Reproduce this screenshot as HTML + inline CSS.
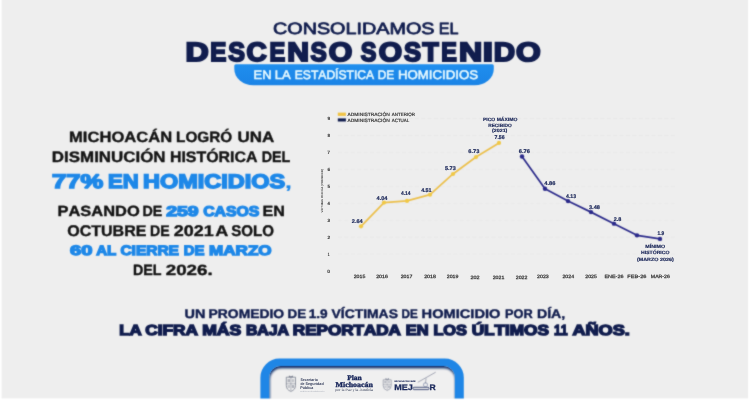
<!DOCTYPE html>
<html lang="es"><head><meta charset="utf-8"><title>Descenso sostenido</title>
<style>
html,body{margin:0;padding:0;background:#eeeeee;}
body{width:750px;height:400px;overflow:hidden;font-family:"Liberation Sans", sans-serif;}
svg{display:block;transform:translateZ(0);will-change:transform;}
text{font-kerning:none;text-rendering:geometricPrecision;}
</style></head><body>
<svg width="750" height="400" viewBox="0 0 750 400">
<defs>
<filter id="soft" x="0" y="0" width="750" height="400" filterUnits="userSpaceOnUse" color-interpolation-filters="sRGB"><feConvolveMatrix order="3" kernelMatrix="0.03 0.095 0.03 0.095 0.5 0.095 0.03 0.095 0.03" edgeMode="duplicate" preserveAlpha="true"/></filter>
<filter id="sh" x="-10%" y="-20%" width="120%" height="150%"><feGaussianBlur stdDeviation="1.3"/></filter>
<linearGradient id="pg" x1="0" y1="0" x2="0" y2="1"><stop offset="0" stop-color="#1f8eee"/><stop offset="1" stop-color="#1b84e6"/></linearGradient>
</defs>
<g filter="url(#soft)">
<rect width="750" height="400" fill="#ffffff"/>
<rect x="1.6" y="0" width="746.5" height="398.4" fill="#eeeeee"/>
<text y="34.00" font-family='"Liberation Sans", sans-serif' font-size="16.33" font-weight="normal" fill="#111d4e" stroke="#111d4e" stroke-width="0.75" stroke-linejoin="round" stroke-miterlimit="2"><tspan x="272.97" textLength="161.56" lengthAdjust="spacingAndGlyphs">CONSOLIDAMOS</tspan> <tspan x="438.65" textLength="19.82" lengthAdjust="spacingAndGlyphs">EL</tspan></text>
<path d="M235.8,64.2 H492.3 Q493.8,64.2 493.8,65.7 V69.1 A19.0,16.2 0 0 1 474.8,85.3 H253.3 A19.0,16.2 0 0 1 234.3,69.1 V65.7 Q234.3,64.2 235.8,64.2 Z" fill="url(#pg)"/>
<text y="61.00" font-family='"Liberation Sans", sans-serif' font-size="26.53" font-weight="bold" fill="#111d4e" stroke="#111d4e" stroke-width="2.00" stroke-linejoin="miter" stroke-miterlimit="2"><tspan x="185.45" textLength="23.20" lengthAdjust="spacingAndGlyphs">D</tspan><tspan x="210.29" textLength="16.05" lengthAdjust="spacingAndGlyphs">E</tspan><tspan x="228.28" textLength="16.70" lengthAdjust="spacingAndGlyphs">S</tspan><tspan x="246.45" textLength="20.21" lengthAdjust="spacingAndGlyphs">C</tspan><tspan x="269.53" textLength="15.69" lengthAdjust="spacingAndGlyphs">E</tspan><tspan x="287.19" textLength="21.74" lengthAdjust="spacingAndGlyphs">N</tspan><tspan x="310.60" textLength="16.25" lengthAdjust="spacingAndGlyphs">S</tspan><tspan x="328.76" textLength="23.51" lengthAdjust="spacingAndGlyphs">O</tspan> <tspan x="360.63" textLength="15.59" lengthAdjust="spacingAndGlyphs">S</tspan><tspan x="378.67" textLength="23.28" lengthAdjust="spacingAndGlyphs">O</tspan><tspan x="404.06" textLength="17.03" lengthAdjust="spacingAndGlyphs">S</tspan><tspan x="422.60" textLength="16.18" lengthAdjust="spacingAndGlyphs">T</tspan><tspan x="441.24" textLength="15.57" lengthAdjust="spacingAndGlyphs">E</tspan><tspan x="458.95" textLength="23.22" lengthAdjust="spacingAndGlyphs">N</tspan><tspan x="482.74" textLength="10.22" lengthAdjust="spacingAndGlyphs">I</tspan><tspan x="493.73" textLength="21.31" lengthAdjust="spacingAndGlyphs">D</tspan><tspan x="516.10" textLength="24.63" lengthAdjust="spacingAndGlyphs">O</tspan></text>
<text y="79.00" font-family='"Liberation Sans", sans-serif' font-size="12.48" font-weight="normal" fill="#e6f9ff" stroke="#e6f9ff" stroke-width="0.55" stroke-linejoin="round" stroke-miterlimit="2"><tspan x="253.61" textLength="17.97" lengthAdjust="spacingAndGlyphs">EN</tspan> <tspan x="274.70" textLength="16.05" lengthAdjust="spacingAndGlyphs">LA</tspan> <tspan x="294.78" textLength="79.37" lengthAdjust="spacingAndGlyphs">ESTADÍSTICA</tspan> <tspan x="377.70" textLength="16.54" lengthAdjust="spacingAndGlyphs">DE</tspan> <tspan x="397.99" textLength="80.14" lengthAdjust="spacingAndGlyphs">HOMICIDIOS</tspan></text>
<text y="142.00" font-family='"Liberation Sans", sans-serif' font-size="14.83" font-weight="bold" fill="#141414" stroke="#141414" stroke-width="0.40" stroke-linejoin="round" stroke-miterlimit="2"><tspan x="69.09" textLength="103.02" lengthAdjust="spacingAndGlyphs">MICHOACÁN</tspan> <tspan x="176.08" textLength="56.17" lengthAdjust="spacingAndGlyphs">LOGRÓ</tspan> <tspan x="237.58" textLength="36.77" lengthAdjust="spacingAndGlyphs">UNA</tspan></text>
<text y="162.00" font-family='"Liberation Sans", sans-serif' font-size="15.19" font-weight="bold" fill="#141414" stroke="#141414" stroke-width="0.40" stroke-linejoin="round" stroke-miterlimit="2"><tspan x="51.87" textLength="113.67" lengthAdjust="spacingAndGlyphs">DISMINUCIÓN</tspan> <tspan x="169.93" textLength="87.59" lengthAdjust="spacingAndGlyphs">HISTÓRICA</tspan> <tspan x="261.74" textLength="28.60" lengthAdjust="spacingAndGlyphs">DEL</tspan></text>
<text y="188.00" font-family='"Liberation Sans", sans-serif' font-size="19.59" font-weight="bold" fill="#1e88e8" stroke="#1e88e8" stroke-width="1.50" stroke-linejoin="miter" stroke-miterlimit="2"><tspan x="52.05" textLength="51.07" lengthAdjust="spacingAndGlyphs" y="188.00">77%</tspan> <tspan x="108.07" textLength="30.66" lengthAdjust="spacingAndGlyphs" y="188.00">EN</tspan> <tspan x="142.98" textLength="142.19" lengthAdjust="spacingAndGlyphs" y="188.00">HOMICIDIOS</tspan><tspan x="285.38" textLength="6.41" lengthAdjust="spacingAndGlyphs" fill="#1e88e8" font-size="17.00" stroke="#1e88e8" stroke-width="0.30" stroke-linejoin="round" y="188.00">,</tspan></text>
<text y="216.00" font-family='"Liberation Sans", sans-serif' font-size="14.75" font-weight="bold" fill="#141414" stroke="#141414" stroke-width="0.40" stroke-linejoin="round" stroke-miterlimit="2"><tspan x="57.50" textLength="82.19" lengthAdjust="spacingAndGlyphs" y="216.00">PASANDO</tspan> <tspan x="142.55" textLength="19.81" lengthAdjust="spacingAndGlyphs" y="216.00">DE</tspan> <tspan x="166.17" textLength="32.50" lengthAdjust="spacingAndGlyphs" fill="#1e88e8" font-size="14.14" stroke="#1e88e8" stroke-width="1.30" stroke-linejoin="miter" y="216.00">259</tspan> <tspan x="203.20" textLength="56.16" lengthAdjust="spacingAndGlyphs" fill="#1e88e8" font-size="14.14" stroke="#1e88e8" stroke-width="1.30" stroke-linejoin="miter" y="216.00">CASOS</tspan> <tspan x="262.52" textLength="22.36" lengthAdjust="spacingAndGlyphs" y="216.00">EN</tspan></text>
<text y="236.00" font-family='"Liberation Sans", sans-serif' font-size="15.41" font-weight="bold" fill="#141414" stroke="#141414" stroke-width="0.40" stroke-linejoin="round" stroke-miterlimit="2"><tspan x="67.24" textLength="79.18" lengthAdjust="spacingAndGlyphs">OCTUBRE</tspan> <tspan x="150.06" textLength="19.59" lengthAdjust="spacingAndGlyphs">DE</tspan> <tspan x="173.78" textLength="39.92" lengthAdjust="spacingAndGlyphs">2021</tspan> <tspan x="215.15" textLength="13.02" lengthAdjust="spacingAndGlyphs">A</tspan> <tspan x="231.27" textLength="42.67" lengthAdjust="spacingAndGlyphs">SOLO</tspan></text>
<text y="255.00" font-family='"Liberation Sans", sans-serif' font-size="13.7" font-weight="bold" fill="#1e88e8" stroke="#1e88e8" stroke-width="1.30" stroke-linejoin="miter" stroke-miterlimit="2"><tspan x="70.11" textLength="22.36" lengthAdjust="spacingAndGlyphs">60</tspan> <tspan x="96.28" textLength="20.04" lengthAdjust="spacingAndGlyphs">AL</tspan> <tspan x="120.41" textLength="58.54" lengthAdjust="spacingAndGlyphs">CIERRE</tspan> <tspan x="183.65" textLength="20.68" lengthAdjust="spacingAndGlyphs">DE</tspan> <tspan x="209.11" textLength="62.46" lengthAdjust="spacingAndGlyphs">MARZO</tspan></text>
<text y="275.00" font-family='"Liberation Sans", sans-serif' font-size="14.83" font-weight="bold" fill="#141414" stroke="#141414" stroke-width="0.40" stroke-linejoin="round" stroke-miterlimit="2"><tspan x="132.94" textLength="28.60" lengthAdjust="spacingAndGlyphs">DEL</tspan> <tspan x="165.75" textLength="46.94" lengthAdjust="spacingAndGlyphs">2026.</tspan></text>
<text y="318.00" font-family='"Liberation Sans", sans-serif' font-size="12.43" font-weight="bold" fill="#111d4e" stroke="#111d4e" stroke-width="0.40" stroke-linejoin="round" stroke-miterlimit="2"><tspan x="184.63" textLength="20.84" lengthAdjust="spacingAndGlyphs">UN</tspan> <tspan x="208.57" textLength="75.61" lengthAdjust="spacingAndGlyphs">PROMEDIO</tspan> <tspan x="287.50" textLength="18.62" lengthAdjust="spacingAndGlyphs">DE</tspan> <tspan x="308.74" textLength="18.97" lengthAdjust="spacingAndGlyphs">1.9</tspan> <tspan x="331.50" textLength="66.44" lengthAdjust="spacingAndGlyphs">VÍCTIMAS</tspan> <tspan x="401.62" textLength="16.24" lengthAdjust="spacingAndGlyphs">DE</tspan> <tspan x="421.62" textLength="78.79" lengthAdjust="spacingAndGlyphs">HOMICIDIO</tspan> <tspan x="504.94" textLength="27.72" lengthAdjust="spacingAndGlyphs">POR</tspan> <tspan x="536.95" textLength="28.29" lengthAdjust="spacingAndGlyphs">DÍA,</tspan></text>
<text y="335.00" font-family='"Liberation Sans", sans-serif' font-size="14.53" font-weight="bold" fill="#111d4e" stroke="#111d4e" stroke-width="1.40" stroke-linejoin="miter" stroke-miterlimit="2"><tspan x="119.27" textLength="22.47" lengthAdjust="spacingAndGlyphs">LA</tspan> <tspan x="145.29" textLength="52.76" lengthAdjust="spacingAndGlyphs">CIFRA</tspan> <tspan x="202.23" textLength="38.96" lengthAdjust="spacingAndGlyphs">MÁS</tspan> <tspan x="245.94" textLength="43.08" lengthAdjust="spacingAndGlyphs">BAJA</tspan> <tspan x="292.86" textLength="108.09" lengthAdjust="spacingAndGlyphs">REPORTADA</tspan> <tspan x="405.80" textLength="22.80" lengthAdjust="spacingAndGlyphs">EN</tspan> <tspan x="433.41" textLength="33.53" lengthAdjust="spacingAndGlyphs">LOS</tspan> <tspan x="471.67" textLength="77.30" lengthAdjust="spacingAndGlyphs">ÚLTIMOS</tspan> <tspan x="553.92" textLength="13.72" lengthAdjust="spacingAndGlyphs">11</tspan> <tspan x="572.55" textLength="57.19" lengthAdjust="spacingAndGlyphs">AÑOS.</tspan></text>
<line x1="338" x2="676" y1="254.15" y2="254.15" stroke="#d8d8d8" stroke-width="0.5" stroke-dasharray="4 2.4" opacity="0.55"/>
<line x1="338" x2="676" y1="237.20" y2="237.20" stroke="#d8d8d8" stroke-width="0.5" stroke-dasharray="4 2.4" opacity="0.55"/>
<line x1="338" x2="676" y1="220.25" y2="220.25" stroke="#d8d8d8" stroke-width="0.5" stroke-dasharray="4 2.4" opacity="0.55"/>
<line x1="338" x2="676" y1="203.30" y2="203.30" stroke="#d8d8d8" stroke-width="0.5" stroke-dasharray="4 2.4" opacity="0.55"/>
<line x1="338" x2="676" y1="186.35" y2="186.35" stroke="#d8d8d8" stroke-width="0.5" stroke-dasharray="4 2.4" opacity="0.55"/>
<line x1="338" x2="676" y1="169.40" y2="169.40" stroke="#d8d8d8" stroke-width="0.5" stroke-dasharray="4 2.4" opacity="0.55"/>
<line x1="338" x2="676" y1="152.45" y2="152.45" stroke="#d8d8d8" stroke-width="0.5" stroke-dasharray="4 2.4" opacity="0.55"/>
<line x1="338" x2="676" y1="135.50" y2="135.50" stroke="#d8d8d8" stroke-width="0.5" stroke-dasharray="4 2.4" opacity="0.55"/>
<line x1="338" x2="676" y1="118.55" y2="118.55" stroke="#d8d8d8" stroke-width="0.5" stroke-dasharray="4 2.4" opacity="0.55"/>
<rect x="337.8" y="112.6" width="8.1" height="3.3" fill="#f0c344"/>
<rect x="337.8" y="118.4" width="8.1" height="3.1" fill="#111d4e"/>
<polyline points="361.00,226.35 384.00,202.62 407.00,200.93 430.00,194.66 453.00,173.98 476.00,157.03 499.00,142.96" fill="none" stroke="#ecc04c" stroke-width="1.7" stroke-linejoin="round" stroke-linecap="round"/>
<circle cx="361.00" cy="226.35" r="2.1" fill="#f0c846"/>
<circle cx="384.00" cy="202.62" r="2.1" fill="#f0c846"/>
<circle cx="407.00" cy="200.93" r="2.1" fill="#f0c846"/>
<circle cx="430.00" cy="194.66" r="2.1" fill="#f0c846"/>
<circle cx="453.00" cy="173.98" r="2.1" fill="#f0c846"/>
<circle cx="476.00" cy="157.03" r="2.1" fill="#f0c846"/>
<circle cx="499.00" cy="142.96" r="2.1" fill="#f0c846"/>
<polyline points="522.00,156.52 545.00,188.72 568.00,201.10 591.00,212.11 614.00,223.64 637.00,235.34 660.00,238.90" fill="none" stroke="#2b2a8a" stroke-width="1.7" stroke-linejoin="round" stroke-linecap="round"/>
<circle cx="522.00" cy="156.52" r="2.2" fill="#2b2a8a"/>
<circle cx="545.00" cy="188.72" r="2.2" fill="#2b2a8a"/>
<circle cx="568.00" cy="201.10" r="2.2" fill="#2b2a8a"/>
<circle cx="591.00" cy="212.11" r="2.2" fill="#2b2a8a"/>
<circle cx="614.00" cy="223.64" r="2.2" fill="#2b2a8a"/>
<circle cx="637.00" cy="235.34" r="2.2" fill="#2b2a8a"/>
<circle cx="660.00" cy="238.90" r="2.2" fill="#2b2a8a"/>
<clipPath id="ic"><path d="M269.3,398.4 V377.4 A11.5,11.5 0 0 1 280.8,365.9 H443.3 A11.5,11.5 0 0 1 454.8,377.4 V398.4 Z"/></clipPath>
<path d="M269.3,398.4 V377.4 A11.5,11.5 0 0 1 280.8,365.9 H443.3 A11.5,11.5 0 0 1 454.8,377.4 V398.4 Z" fill="#f0f0f0"/>
<g clip-path="url(#ic)"><path d="M260.4,398.4 V377.6 A19.0,19.0 0 0 1 279.4,358.6 H444.8 A19.0,19.0 0 0 1 463.8,377.6 V398.4 Z M269.3,398.4 V377.4 A11.5,11.5 0 0 1 280.8,365.9 H443.3 A11.5,11.5 0 0 1 454.8,377.4 V398.4 Z" fill-rule="evenodd" fill="#0c2c66" opacity="1" filter="url(#sh)" transform="translate(0.5,2.3)"/></g>
<path d="M260.4,398.4 V377.6 A19.0,19.0 0 0 1 279.4,358.6 H444.8 A19.0,19.0 0 0 1 463.8,377.6 V398.4 Z M269.3,398.4 V377.4 A11.5,11.5 0 0 1 280.8,365.9 H443.3 A11.5,11.5 0 0 1 454.8,377.4 V398.4 Z" fill-rule="evenodd" fill="#1f86e6"/>
<path d="M286.3,377.20000000000005 H295.5 V385.396 Q295.5,389.82000000000005 290.90000000000003,391.40000000000003 Q286.3,389.82000000000005 286.3,385.396 Z" fill="none" stroke="#6c7284" stroke-width="0.7"/>
<path d="M290.90000000000003,377.20000000000005 V390.61 M286.3,383.81600000000003 H295.5" stroke="#6c7284" stroke-width="0.45499999999999996" fill="none"/>
<path d="M288.6,377.20000000000005 L289.06,375.40000000000003 L290.90000000000003,376.40000000000003 L292.74,375.40000000000003 L293.2,377.20000000000005 Z" fill="#6c7284" opacity="0.85"/>
<rect x="287.588" y="379.076" width="2.392" height="3.16" fill="#6c7284" opacity="0.5"/>
<rect x="291.82" y="379.076" width="2.392" height="3.16" fill="#6c7284" opacity="0.35"/>
<rect x="287.588" y="385.08000000000004" width="2.392" height="2.844" fill="#6c7284" opacity="0.35"/>
<rect x="291.82" y="385.08000000000004" width="2.392" height="2.844" fill="#6c7284" opacity="0.5"/>
<path d="M383.2,379.8 H391.2 V385.82599999999996 Q391.2,389.27 387.2,390.5 Q383.2,389.27 383.2,385.82599999999996 Z" fill="none" stroke="#7c8294" stroke-width="0.6"/>
<path d="M387.2,379.8 V389.885 M383.2,384.596 H391.2" stroke="#7c8294" stroke-width="0.39" fill="none"/>
<path d="M385.2,379.8 L385.59999999999997,378.0 L387.2,379.0 L388.8,378.0 L389.2,379.8 Z" fill="#7c8294" opacity="0.85"/>
<rect x="384.32" y="380.906" width="2.08" height="2.4600000000000004" fill="#7c8294" opacity="0.5"/>
<rect x="388.0" y="380.906" width="2.08" height="2.4600000000000004" fill="#7c8294" opacity="0.35"/>
<rect x="384.32" y="385.58" width="2.08" height="2.214" fill="#7c8294" opacity="0.35"/>
<rect x="388.0" y="385.58" width="2.08" height="2.214" fill="#7c8294" opacity="0.5"/>
<rect x="412.9" y="387.3" width="16.2" height="2.3" rx="1.15" fill="none" stroke="#1c2a5c" stroke-width="0.8"/>
<rect x="423.6" y="383.0" width="3.8" height="3.6" rx="1.2" fill="#f0f0f0" stroke="#56648f" stroke-width="0.55"/>
<path d="M417.8,382.3 L435.7,372.2" stroke="#2a3358" stroke-width="0.4"/>
<path d="M426.1,378.4 L425.5,383.0" stroke="#2a3358" stroke-width="0.35"/>
</g>
<text transform="translate(0,272.85) scale(0.16667)" y="0" font-family='"Liberation Sans", sans-serif' font-size="28.20" font-weight="bold" fill="#3a3a3a" stroke="#3a3a3a" stroke-width="0.60" stroke-linejoin="round" stroke-miterlimit="2"><tspan x="1964.15" textLength="16.14" lengthAdjust="spacingAndGlyphs">0</tspan></text>
<text transform="translate(0,255.90) scale(0.16667)" y="0" font-family='"Liberation Sans", sans-serif' font-size="28.20" font-weight="bold" fill="#3a3a3a" stroke="#3a3a3a" stroke-width="0.60" stroke-linejoin="round" stroke-miterlimit="2"><tspan x="1966.48" textLength="10.76" lengthAdjust="spacingAndGlyphs">1</tspan></text>
<text transform="translate(0,238.95) scale(0.16667)" y="0" font-family='"Liberation Sans", sans-serif' font-size="28.20" font-weight="bold" fill="#3a3a3a" stroke="#3a3a3a" stroke-width="0.60" stroke-linejoin="round" stroke-miterlimit="2"><tspan x="1964.31" textLength="15.94" lengthAdjust="spacingAndGlyphs">2</tspan></text>
<text transform="translate(0,222.00) scale(0.16667)" y="0" font-family='"Liberation Sans", sans-serif' font-size="28.20" font-weight="bold" fill="#3a3a3a" stroke="#3a3a3a" stroke-width="0.60" stroke-linejoin="round" stroke-miterlimit="2"><tspan x="1964.66" textLength="15.44" lengthAdjust="spacingAndGlyphs">3</tspan></text>
<text transform="translate(0,205.05) scale(0.16667)" y="0" font-family='"Liberation Sans", sans-serif' font-size="28.20" font-weight="bold" fill="#3a3a3a" stroke="#3a3a3a" stroke-width="0.60" stroke-linejoin="round" stroke-miterlimit="2"><tspan x="1964.91" textLength="14.33" lengthAdjust="spacingAndGlyphs">4</tspan></text>
<text transform="translate(0,188.10) scale(0.16667)" y="0" font-family='"Liberation Sans", sans-serif' font-size="28.20" font-weight="bold" fill="#3a3a3a" stroke="#3a3a3a" stroke-width="0.60" stroke-linejoin="round" stroke-miterlimit="2"><tspan x="1964.45" textLength="15.43" lengthAdjust="spacingAndGlyphs">5</tspan></text>
<text transform="translate(0,171.15) scale(0.16667)" y="0" font-family='"Liberation Sans", sans-serif' font-size="28.20" font-weight="bold" fill="#3a3a3a" stroke="#3a3a3a" stroke-width="0.60" stroke-linejoin="round" stroke-miterlimit="2"><tspan x="1964.25" textLength="15.88" lengthAdjust="spacingAndGlyphs">6</tspan></text>
<text transform="translate(0,154.20) scale(0.16667)" y="0" font-family='"Liberation Sans", sans-serif' font-size="28.20" font-weight="bold" fill="#3a3a3a" stroke="#3a3a3a" stroke-width="0.60" stroke-linejoin="round" stroke-miterlimit="2"><tspan x="1964.04" textLength="16.36" lengthAdjust="spacingAndGlyphs">7</tspan></text>
<text transform="translate(0,137.25) scale(0.16667)" y="0" font-family='"Liberation Sans", sans-serif' font-size="28.20" font-weight="bold" fill="#3a3a3a" stroke="#3a3a3a" stroke-width="0.60" stroke-linejoin="round" stroke-miterlimit="2"><tspan x="1964.41" textLength="15.55" lengthAdjust="spacingAndGlyphs">8</tspan></text>
<text transform="translate(0,120.30) scale(0.16667)" y="0" font-family='"Liberation Sans", sans-serif' font-size="28.20" font-weight="bold" fill="#3a3a3a" stroke="#3a3a3a" stroke-width="0.60" stroke-linejoin="round" stroke-miterlimit="2"><tspan x="1964.31" textLength="15.84" lengthAdjust="spacingAndGlyphs">9</tspan></text>
<text transform="translate(323.25,212.4) rotate(-90) scale(0.125)" x="0" y="0" font-family='"Liberation Sans", sans-serif' font-size="21.6" fill="#3a3a3a" font-weight="bold" textLength="347.2" lengthAdjust="spacingAndGlyphs">VÍCTIMAS POR DÍA (PROMEDIO)</text>
<text transform="translate(0,116.00) scale(0.16667)" y="0" font-family='"Liberation Sans", sans-serif' font-size="28.20" font-weight="normal" fill="#3a3a3a" stroke="#3a3a3a" stroke-width="1.20" stroke-linejoin="round" stroke-miterlimit="2"><tspan x="2084.34" textLength="254.45" lengthAdjust="spacingAndGlyphs">ADMINISTRACIÓN</tspan> <tspan x="2350.15" textLength="139.30" lengthAdjust="spacingAndGlyphs">ANTERIOR</tspan></text>
<text transform="translate(0,121.70) scale(0.16667)" y="0" font-family='"Liberation Sans", sans-serif' font-size="28.20" font-weight="normal" fill="#3a3a3a" stroke="#3a3a3a" stroke-width="1.20" stroke-linejoin="round" stroke-miterlimit="2"><tspan x="2084.34" textLength="254.45" lengthAdjust="spacingAndGlyphs">ADMINISTRACIÓN</tspan> <tspan x="2350.15" textLength="105.34" lengthAdjust="spacingAndGlyphs">ACTUAL</tspan></text>
<text transform="translate(0,223.10) scale(0.16667)" y="0" font-family='"Liberation Sans", sans-serif' font-size="32.40" font-weight="bold" fill="#1a2658" stroke="#1a2658" stroke-width="1.20" stroke-linejoin="round" stroke-miterlimit="2"><tspan x="2110.53" textLength="65.55" lengthAdjust="spacingAndGlyphs">2.64</tspan></text>
<text transform="translate(0,199.70) scale(0.16667)" y="0" font-family='"Liberation Sans", sans-serif' font-size="32.40" font-weight="bold" fill="#1a2658" stroke="#1a2658" stroke-width="1.20" stroke-linejoin="round" stroke-miterlimit="2"><tspan x="2259.09" textLength="65.49" lengthAdjust="spacingAndGlyphs">4.04</tspan></text>
<text transform="translate(0,195.30) scale(0.16667)" y="0" font-family='"Liberation Sans", sans-serif' font-size="32.40" font-weight="bold" fill="#1a2658" stroke="#1a2658" stroke-width="1.20" stroke-linejoin="round" stroke-miterlimit="2"><tspan x="2406.16" textLength="57.00" lengthAdjust="spacingAndGlyphs">4.14</tspan></text>
<text transform="translate(0,191.80) scale(0.16667)" y="0" font-family='"Liberation Sans", sans-serif' font-size="32.40" font-weight="bold" fill="#1a2658" stroke="#1a2658" stroke-width="1.20" stroke-linejoin="round" stroke-miterlimit="2"><tspan x="2526.71" textLength="62.58" lengthAdjust="spacingAndGlyphs">4.51</tspan></text>
<text transform="translate(0,170.30) scale(0.16667)" y="0" font-family='"Liberation Sans", sans-serif' font-size="32.40" font-weight="bold" fill="#1a2658" stroke="#1a2658" stroke-width="1.20" stroke-linejoin="round" stroke-miterlimit="2"><tspan x="2669.58" textLength="64.62" lengthAdjust="spacingAndGlyphs">5.73</tspan></text>
<text transform="translate(0,152.60) scale(0.16667)" y="0" font-family='"Liberation Sans", sans-serif' font-size="32.40" font-weight="bold" fill="#1a2658" stroke="#1a2658" stroke-width="1.20" stroke-linejoin="round" stroke-miterlimit="2"><tspan x="2809.76" textLength="66.07" lengthAdjust="spacingAndGlyphs">6.73</tspan></text>
<text transform="translate(0,139.00) scale(0.16667)" y="0" font-family='"Liberation Sans", sans-serif' font-size="32.40" font-weight="bold" fill="#1a2658" stroke="#1a2658" stroke-width="1.20" stroke-linejoin="round" stroke-miterlimit="2"><tspan x="2967.16" textLength="60.67" lengthAdjust="spacingAndGlyphs">7.56</tspan></text>
<text transform="translate(0,152.60) scale(0.16667)" y="0" font-family='"Liberation Sans", sans-serif' font-size="32.40" font-weight="bold" fill="#1a2658" stroke="#1a2658" stroke-width="1.20" stroke-linejoin="round" stroke-miterlimit="2"><tspan x="3113.05" textLength="66.69" lengthAdjust="spacingAndGlyphs">6.76</tspan></text>
<text transform="translate(0,185.00) scale(0.16667)" y="0" font-family='"Liberation Sans", sans-serif' font-size="32.40" font-weight="bold" fill="#1a2658" stroke="#1a2658" stroke-width="1.20" stroke-linejoin="round" stroke-miterlimit="2"><tspan x="3265.28" textLength="66.55" lengthAdjust="spacingAndGlyphs">4.86</tspan></text>
<text transform="translate(0,197.70) scale(0.16667)" y="0" font-family='"Liberation Sans", sans-serif' font-size="32.40" font-weight="bold" fill="#1a2658" stroke="#1a2658" stroke-width="1.20" stroke-linejoin="round" stroke-miterlimit="2"><tspan x="3396.44" textLength="59.77" lengthAdjust="spacingAndGlyphs">4.13</tspan></text>
<text transform="translate(0,208.80) scale(0.16667)" y="0" font-family='"Liberation Sans", sans-serif' font-size="32.40" font-weight="bold" fill="#1a2658" stroke="#1a2658" stroke-width="1.20" stroke-linejoin="round" stroke-miterlimit="2"><tspan x="3533.83" textLength="65.40" lengthAdjust="spacingAndGlyphs">3.48</tspan></text>
<text transform="translate(0,221.00) scale(0.16667)" y="0" font-family='"Liberation Sans", sans-serif' font-size="32.40" font-weight="bold" fill="#1a2658" stroke="#1a2658" stroke-width="1.20" stroke-linejoin="round" stroke-miterlimit="2"><tspan x="3682.27" textLength="45.33" lengthAdjust="spacingAndGlyphs">2.8</tspan></text>
<text transform="translate(0,235.10) scale(0.16667)" y="0" font-family='"Liberation Sans", sans-serif' font-size="32.40" font-weight="bold" fill="#1a2658" stroke="#1a2658" stroke-width="1.20" stroke-linejoin="round" stroke-miterlimit="2"><tspan x="3945.58" textLength="40.09" lengthAdjust="spacingAndGlyphs">1.9</tspan></text>
<text transform="translate(0,120.78) scale(0.16667)" y="0" font-family='"Liberation Sans", sans-serif' font-size="28.20" font-weight="bold" fill="#1a2658" stroke="#1a2658" stroke-width="1.08" stroke-linejoin="round" stroke-miterlimit="2"><tspan x="2897.72" textLength="206.21" lengthAdjust="spacingAndGlyphs">PICO MÁXIMO</tspan></text>
<text transform="translate(0,126.58) scale(0.16667)" y="0" font-family='"Liberation Sans", sans-serif' font-size="28.20" font-weight="bold" fill="#1a2658" stroke="#1a2658" stroke-width="1.08" stroke-linejoin="round" stroke-miterlimit="2"><tspan x="2929.01" textLength="141.27" lengthAdjust="spacingAndGlyphs">RECIBIDO</tspan></text>
<text transform="translate(0,132.38) scale(0.16667)" y="0" font-family='"Liberation Sans", sans-serif' font-size="28.20" font-weight="bold" fill="#1a2658" stroke="#1a2658" stroke-width="1.08" stroke-linejoin="round" stroke-miterlimit="2"><tspan x="2952.15" textLength="92.09" lengthAdjust="spacingAndGlyphs">(2021)</tspan></text>
<text transform="translate(0,248.38) scale(0.16667)" y="0" font-family='"Liberation Sans", sans-serif' font-size="28.20" font-weight="bold" fill="#1a2658" stroke="#1a2658" stroke-width="1.08" stroke-linejoin="round" stroke-miterlimit="2"><tspan x="3871.69" textLength="119.41" lengthAdjust="spacingAndGlyphs">MÍNIMO</tspan></text>
<text transform="translate(0,254.38) scale(0.16667)" y="0" font-family='"Liberation Sans", sans-serif' font-size="28.20" font-weight="bold" fill="#1a2658" stroke="#1a2658" stroke-width="1.08" stroke-linejoin="round" stroke-miterlimit="2"><tspan x="3846.29" textLength="170.26" lengthAdjust="spacingAndGlyphs">HISTÓRICO</tspan></text>
<text transform="translate(0,260.58) scale(0.16667)" y="0" font-family='"Liberation Sans", sans-serif' font-size="28.20" font-weight="bold" fill="#1a2658" stroke="#1a2658" stroke-width="1.08" stroke-linejoin="round" stroke-miterlimit="2"><tspan x="3821.53" textLength="220.53" lengthAdjust="spacingAndGlyphs">(MARZO 2026)</tspan></text>
<text transform="translate(0,277.55) scale(0.16667)" y="0" font-family='"Liberation Sans", sans-serif' font-size="28.20" font-weight="normal" fill="#3a3a3a" stroke="#3a3a3a" stroke-width="1.50" stroke-linejoin="round" stroke-miterlimit="2"><tspan x="2121.97" textLength="69.80" lengthAdjust="spacingAndGlyphs">2015</tspan></text>
<text transform="translate(0,277.55) scale(0.16667)" y="0" font-family='"Liberation Sans", sans-serif' font-size="28.20" font-weight="normal" fill="#3a3a3a" stroke="#3a3a3a" stroke-width="1.50" stroke-linejoin="round" stroke-miterlimit="2"><tspan x="2256.97" textLength="69.86" lengthAdjust="spacingAndGlyphs">2016</tspan></text>
<text transform="translate(0,277.55) scale(0.16667)" y="0" font-family='"Liberation Sans", sans-serif' font-size="28.20" font-weight="normal" fill="#3a3a3a" stroke="#3a3a3a" stroke-width="1.50" stroke-linejoin="round" stroke-miterlimit="2"><tspan x="2403.97" textLength="70.07" lengthAdjust="spacingAndGlyphs">2017</tspan></text>
<text transform="translate(0,277.55) scale(0.16667)" y="0" font-family='"Liberation Sans", sans-serif' font-size="28.20" font-weight="normal" fill="#3a3a3a" stroke="#3a3a3a" stroke-width="1.50" stroke-linejoin="round" stroke-miterlimit="2"><tspan x="2544.97" textLength="69.84" lengthAdjust="spacingAndGlyphs">2018</tspan></text>
<text transform="translate(0,277.65) scale(0.16667)" y="0" font-family='"Liberation Sans", sans-serif' font-size="28.20" font-weight="normal" fill="#3a3a3a" stroke="#3a3a3a" stroke-width="1.50" stroke-linejoin="round" stroke-miterlimit="2"><tspan x="2680.57" textLength="69.97" lengthAdjust="spacingAndGlyphs">2019</tspan></text>
<text transform="translate(0,278.75) scale(0.16667)" y="0" font-family='"Liberation Sans", sans-serif' font-size="28.20" font-weight="normal" fill="#3a3a3a" stroke="#3a3a3a" stroke-width="1.50" stroke-linejoin="round" stroke-miterlimit="2"><tspan x="2822.70" textLength="54.59" lengthAdjust="spacingAndGlyphs">202</tspan></text>
<text transform="translate(0,278.75) scale(0.16667)" y="0" font-family='"Liberation Sans", sans-serif' font-size="28.20" font-weight="normal" fill="#3a3a3a" stroke="#3a3a3a" stroke-width="1.50" stroke-linejoin="round" stroke-miterlimit="2"><tspan x="2955.97" textLength="70.02" lengthAdjust="spacingAndGlyphs">2021</tspan></text>
<text transform="translate(0,278.75) scale(0.16667)" y="0" font-family='"Liberation Sans", sans-serif' font-size="28.20" font-weight="normal" fill="#3a3a3a" stroke="#3a3a3a" stroke-width="1.50" stroke-linejoin="round" stroke-miterlimit="2"><tspan x="3094.57" textLength="70.07" lengthAdjust="spacingAndGlyphs">2022</tspan></text>
<text transform="translate(0,277.95) scale(0.16667)" y="0" font-family='"Liberation Sans", sans-serif' font-size="28.20" font-weight="normal" fill="#3a3a3a" stroke="#3a3a3a" stroke-width="1.50" stroke-linejoin="round" stroke-miterlimit="2"><tspan x="3222.37" textLength="69.86" lengthAdjust="spacingAndGlyphs">2023</tspan></text>
<text transform="translate(0,278.15) scale(0.16667)" y="0" font-family='"Liberation Sans", sans-serif' font-size="28.20" font-weight="normal" fill="#3a3a3a" stroke="#3a3a3a" stroke-width="1.50" stroke-linejoin="round" stroke-miterlimit="2"><tspan x="3374.78" textLength="69.38" lengthAdjust="spacingAndGlyphs">2024</tspan></text>
<text transform="translate(0,277.55) scale(0.16667)" y="0" font-family='"Liberation Sans", sans-serif' font-size="28.20" font-weight="normal" fill="#3a3a3a" stroke="#3a3a3a" stroke-width="1.50" stroke-linejoin="round" stroke-miterlimit="2"><tspan x="3511.57" textLength="69.80" lengthAdjust="spacingAndGlyphs">2025</tspan></text>
<text transform="translate(0,277.55) scale(0.16667)" y="0" font-family='"Liberation Sans", sans-serif' font-size="28.20" font-weight="normal" fill="#3a3a3a" stroke="#3a3a3a" stroke-width="1.50" stroke-linejoin="round" stroke-miterlimit="2"><tspan x="3626.27" textLength="114.21" lengthAdjust="spacingAndGlyphs">ENE-26</tspan></text>
<text transform="translate(0,277.55) scale(0.16667)" y="0" font-family='"Liberation Sans", sans-serif' font-size="28.20" font-weight="normal" fill="#3a3a3a" stroke="#3a3a3a" stroke-width="1.50" stroke-linejoin="round" stroke-miterlimit="2"><tspan x="3764.18" textLength="114.35" lengthAdjust="spacingAndGlyphs">FEB-26</tspan></text>
<text transform="translate(0,277.55) scale(0.16667)" y="0" font-family='"Liberation Sans", sans-serif' font-size="28.20" font-weight="normal" fill="#3a3a3a" stroke="#3a3a3a" stroke-width="1.50" stroke-linejoin="round" stroke-miterlimit="2"><tspan x="3904.80" textLength="114.02" lengthAdjust="spacingAndGlyphs">MAR-26</tspan></text>
<text transform="translate(0,381.20) scale(0.16667)" y="0" font-family='"Liberation Sans", sans-serif' font-size="23.40" font-weight="bold" fill="#2e3756"><tspan x="1802.99" textLength="103.08" lengthAdjust="spacingAndGlyphs">Secretaría</tspan></text>
<text transform="translate(0,384.90) scale(0.16667)" y="0" font-family='"Liberation Sans", sans-serif' font-size="23.40" font-weight="bold" fill="#2e3756"><tspan x="1802.77" textLength="23.73" lengthAdjust="spacingAndGlyphs">de</tspan> <tspan x="1832.96" textLength="108.91" lengthAdjust="spacingAndGlyphs">Seguridad</tspan></text>
<text transform="translate(0,388.50) scale(0.16667)" y="0" font-family='"Liberation Sans", sans-serif' font-size="23.40" font-weight="bold" fill="#2e3756"><tspan x="1802.15" textLength="76.91" lengthAdjust="spacingAndGlyphs">Pública</tspan></text>
<text transform="translate(0,391.50) scale(0.16667)" y="0" font-family='"Liberation Sans", sans-serif' font-size="9.60" font-weight="normal" fill="#8a90a0"><tspan x="1802.92" textLength="144.37" lengthAdjust="spacingAndGlyphs">Gobierno de Michoacán</tspan></text>
<text transform="translate(0,380.10) scale(0.16667)" y="0" font-family='"Liberation Serif", serif' font-size="41.40" font-weight="bold" fill="#18265a" stroke="#18265a" stroke-width="2.10" stroke-linejoin="round" stroke-miterlimit="2"><tspan x="2082.88" textLength="87.55" lengthAdjust="spacingAndGlyphs">Plan</tspan></text>
<text transform="translate(0,386.50) scale(0.16667)" y="0" font-family='"Liberation Serif", serif' font-size="43.20" font-weight="bold" fill="#18265a" stroke="#18265a" stroke-width="2.10" stroke-linejoin="round" stroke-miterlimit="2"><tspan x="2012.64" textLength="225.04" lengthAdjust="spacingAndGlyphs">Michoacán</tspan></text>
<text transform="translate(0,390.60) scale(0.16667)" y="0" font-family='"Liberation Sans", sans-serif' font-size="19.80" font-weight="normal" fill="#6c7284" stroke="#6c7284" stroke-width="0.60" stroke-linejoin="round" stroke-miterlimit="2"><tspan x="2011.25" textLength="32.42" lengthAdjust="spacingAndGlyphs">por</tspan> <tspan x="2050.34" textLength="15.76" lengthAdjust="spacingAndGlyphs">la</tspan> <tspan x="2073.34" textLength="37.03" lengthAdjust="spacingAndGlyphs">Paz</tspan> <tspan x="2117.06" textLength="9.08" lengthAdjust="spacingAndGlyphs">y</tspan> <tspan x="2132.48" textLength="16.42" lengthAdjust="spacingAndGlyphs">la</tspan> <tspan x="2156.92" textLength="80.78" lengthAdjust="spacingAndGlyphs">Justicia</tspan></text>
<text transform="translate(0,381.50) scale(0.16667)" y="0" font-family='"Liberation Sans", sans-serif' font-size="13.20" font-weight="bold" fill="#2a3560" stroke="#2a3560" stroke-width="0.60" stroke-linejoin="round" stroke-miterlimit="2"><tspan x="2366.92" textLength="90.76" lengthAdjust="spacingAndGlyphs">MICHOACÁN</tspan> <tspan x="2462.36" textLength="30.63" lengthAdjust="spacingAndGlyphs">ES</tspan></text>
<text transform="translate(0,389.75) scale(0.16667)" y="0" font-family='"Liberation Sans", sans-serif' font-size="48.00" font-weight="bold" fill="#1c2a5c" stroke="#1c2a5c" stroke-width="1.50" stroke-linejoin="round" stroke-miterlimit="2"><tspan x="2364.72" textLength="111.43" lengthAdjust="spacingAndGlyphs">MEJ</tspan></text>
<text transform="translate(0,389.75) scale(0.16667)" y="0" font-family='"Liberation Sans", sans-serif' font-size="48.00" font-weight="bold" fill="#1c2a5c" stroke="#1c2a5c" stroke-width="1.50" stroke-linejoin="round" stroke-miterlimit="2"><tspan x="2577.30" textLength="37.20" lengthAdjust="spacingAndGlyphs">R</tspan></text>
</svg>
</body></html>
